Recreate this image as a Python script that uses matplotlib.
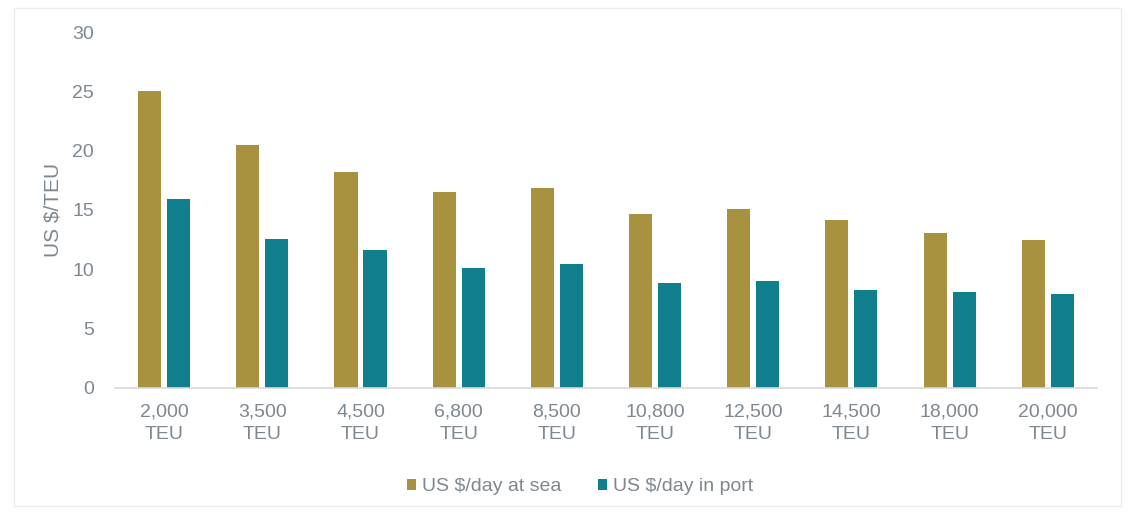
import matplotlib.pyplot as plt
import numpy as np
from matplotlib.patches import Rectangle

# vessel sizes and daily cost per TEU
sizes = ["2,000\nTEU", "3,500\nTEU", "4,500\nTEU", "6,800\nTEU", "8,500\nTEU",
         "10,800\nTEU", "12,500\nTEU", "14,500\nTEU", "18,000\nTEU", "20,000\nTEU"]
at_sea = [25.0, 20.5, 18.2, 16.5, 16.85, 14.65, 15.05, 14.15, 13.05, 12.45]
in_port = [15.9, 12.55, 11.6, 10.1, 10.45, 8.85, 9.0, 8.25, 8.1, 7.9]

sea_col = "#a8913f"
port_col = "#0f7f8e"
txt_col = "#7d8891"

plt.rcParams['font.family'] = ['Liberation Sans', 'DejaVu Sans']

fig = plt.figure(figsize=(11.32, 5.13), dpi=100)
ax = fig.add_axes([0.1016, 0.2437, 0.8674, 0.6939])

x = np.arange(len(sizes))
w = 0.235
gap = 0.03
ax.bar(x - w/2 - gap, at_sea, w, color=sea_col, label="US $/day at sea")
ax.bar(x + w/2 + gap, in_port, w, color=port_col, label="US $/day in port")

ax.set_xlim(-0.5, len(sizes) - 0.5)
ax.set_ylim(0, 30)
ax.set_yticks(range(0, 31, 5))
ax.set_xticks(x)
ax.set_xticklabels(sizes, linespacing=1.45)
ax.tick_params(axis='both', length=0, colors=txt_col, labelsize=14)
ax.tick_params(axis='y', pad=15)
ax.tick_params(axis='x', pad=11)
for s in ["top", "right", "left"]:
    ax.spines[s].set_visible(False)
ax.spines["bottom"].set_color("#d9d9d9")
ax.spines["bottom"].set_linewidth(1.2)
ax.set_ylabel("US $/TEU", color=txt_col, fontsize=15, labelpad=7)

ax.legend(loc="upper center", bbox_to_anchor=(0.4735, -0.205), ncol=2, frameon=False,
          fontsize=14, labelcolor=txt_col, handlelength=0.45, handleheight=0.45,
          handletextpad=0.3, columnspacing=1.9)

# faint frame round the chart
fig.patches.append(Rectangle((0.012, 0.014), 0.978, 0.97, transform=fig.transFigure,
                             fill=False, edgecolor="#ececec", linewidth=1))

fig.savefig("out.png", dpi=100)
